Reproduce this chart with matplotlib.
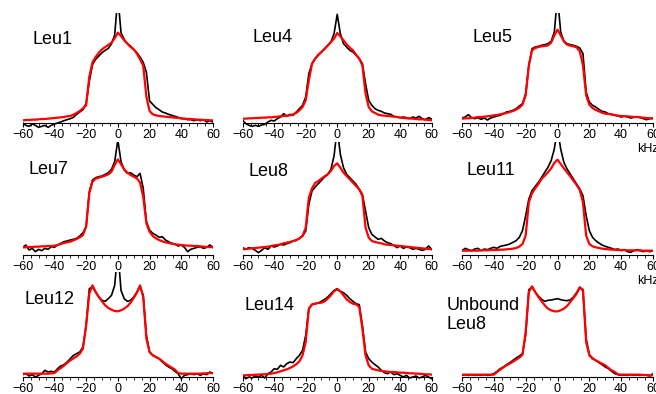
import numpy as np
import matplotlib.pyplot as plt
from matplotlib.ticker import MultipleLocator

plt.rcParams['font.family'] = ['Liberation Sans', 'DejaVu Sans']

# frequency grid of the spectra (kHz)
khz = np.arange(-60, 61, 2)

# intensities (arbitrary units, baseline = 0)
leu1_black = [0, -7, -10, -3, -7, -13, -10, -7, -13, -7, -3, 0, 3, 7, 10, 13, 17, 26, 33, 40,
              59, 125, 175, 191, 201, 211, 218, 224, 238, 264, 380, 271, 251, 238, 231, 221, 211, 198, 182, 152, 66,
              56, 46, 40, 33, 30, 26, 23, 20, 17, 13, 13, 10, 10, 7, 10, 7, 10, 3, 7, 3]
leu1_red = [8, 9, 9, 10, 10, 11, 12, 12, 13, 14, 15, 16, 17, 18, 20, 21, 25, 30, 36, 44,
            53, 139, 182, 198, 211, 221, 228, 234, 241, 254, 271, 261, 248, 238, 228, 221, 208, 191, 172, 79, 36,
            26, 23, 21, 20, 19, 18, 17, 16, 15, 14, 13, 12, 12, 11, 10, 10, 9, 9, 8, 8]

leu4_black = [8, -2, -7, -10, -7, -10, -6, -4, 3, 8, 6, 13, 18, 28, 20, 26, 23, 33, 43, 53,
              78, 148, 178, 193, 203, 213, 223, 233, 243, 268, 326, 268, 238, 228, 218, 213, 203, 193, 178, 118, 68,
              53, 43, 38, 35, 30, 28, 26, 20, 18, 16, 18, 16, 13, 18, 15, 20, 13, 10, 16, 12]
leu4_red = [13, 13, 14, 14, 15, 15, 16, 16, 17, 17, 18, 19, 20, 21, 22, 23, 26, 30, 38, 48,
            68, 128, 178, 193, 205, 213, 222, 232, 243, 253, 270, 260, 248, 236, 226, 218, 205, 193, 173, 88, 48,
            35, 30, 25, 23, 22, 21, 20, 19, 18, 16, 15, 14, 14, 13, 12, 11, 11, 10, 9, 8]

leu5_black = [15, 18, 25, 16, 13, 16, 11, 15, 9, 15, 18, 21, 23, 28, 33, 35, 38, 43, 51, 58,
              88, 173, 223, 228, 230, 233, 235, 238, 245, 273, 380, 273, 245, 238, 235, 233, 230, 225, 208, 93, 63,
              53, 48, 41, 35, 33, 28, 25, 23, 21, 18, 21, 18, 15, 17, 19, 16, 13, 10, 13, 15]
leu5_red = [13, 14, 14, 15, 16, 18, 18, 19, 20, 21, 23, 24, 26, 28, 30, 33, 36, 40, 46, 55,
            83, 173, 218, 225, 228, 230, 231, 233, 241, 263, 280, 263, 245, 235, 232, 230, 227, 215, 173, 83, 55,
            45, 39, 35, 31, 28, 27, 26, 24, 22, 21, 20, 20, 19, 18, 18, 17, 16, 15, 14, 13]

leu7_black = [23, 30, 15, 20, 10, 17, 13, 20, 17, 25, 23, 30, 35, 40, 42, 45, 47, 50, 57, 67,
              85, 190, 225, 232, 235, 237, 242, 247, 257, 280, 345, 280, 255, 245, 247, 240, 235, 245, 200, 100, 75,
              65, 60, 53, 55, 45, 40, 35, 33, 27, 30, 23, 10, 17, 20, 23, 25, 20, 23, 30, 23]
leu7_red = [23, 23, 24, 24, 25, 25, 26, 26, 27, 27, 28, 30, 33, 36, 38, 40, 44, 48, 53, 60,
            85, 185, 220, 229, 232, 235, 238, 242, 250, 270, 287, 272, 257, 247, 240, 235, 230, 217, 175, 95, 70,
            57, 50, 45, 41, 38, 36, 34, 32, 31, 30, 29, 28, 28, 27, 27, 26, 25, 24, 24, 23]

leu8_black = [22, 17, 22, 20, 14, 7, 14, 22, 17, 27, 24, 27, 32, 30, 34, 37, 42, 44, 50, 57,
              72, 152, 192, 204, 214, 224, 234, 242, 257, 297, 380, 302, 262, 242, 232, 222, 212, 197, 182, 132, 82,
              62, 54, 47, 50, 42, 37, 34, 29, 22, 27, 20, 24, 22, 17, 20, 17, 14, 17, 27, 17]
leu8_red = [17, 18, 19, 20, 21, 22, 23, 24, 25, 27, 29, 30, 32, 35, 37, 39, 42, 45, 50, 57,
            82, 172, 200, 216, 222, 229, 236, 242, 252, 267, 275, 262, 247, 237, 227, 217, 207, 197, 177, 82, 52,
            42, 39, 37, 35, 32, 31, 30, 29, 28, 27, 26, 25, 24, 23, 22, 21, 20, 19, 18, 17]

leu11_black = [13, 20, 16, 13, 18, 20, 13, 18, 16, 20, 23, 20, 26, 28, 30, 33, 38, 43, 53, 73,
               118, 168, 193, 206, 218, 233, 248, 263, 283, 318, 380, 318, 278, 258, 243, 228, 213, 198, 178, 118, 73,
               53, 43, 36, 30, 26, 23, 20, 16, 18, 13, 16, 10, 8, 13, 16, 13, 10, 13, 10, 13]
leu11_red = [13, 13, 13, 13, 13, 13, 14, 14, 14, 15, 15, 15, 16, 16, 17, 18, 19, 21, 25, 33,
             58, 158, 185, 200, 213, 228, 238, 248, 260, 276, 286, 273, 260, 248, 236, 223, 210, 195, 158, 58, 33,
             26, 23, 21, 19, 18, 17, 16, 16, 15, 15, 15, 14, 14, 14, 14, 14, 13, 13, 13, 13]

leu12_black = [7, 10, 3, 7, 0, 5, 10, 20, 15, 17, 15, 25, 33, 37, 45, 55, 65, 70, 75, 90,
               155, 265, 270, 255, 240, 230, 227, 235, 245, 275, 380, 260, 235, 227, 230, 240, 255, 270, 245, 125, 75,
               65, 60, 55, 45, 37, 30, 25, 17, 10, -5, 5, 7, 10, 7, 10, 5, 10, 7, 15, 10]
leu12_red = [10, 10, 10, 10, 10, 10, 10, 10, 10, 11, 12, 20, 27, 34, 42, 50, 56, 62, 70, 85,
             155, 250, 275, 255, 240, 227, 215, 207, 202, 198, 197, 200, 205, 212, 223, 237, 253, 275, 240, 115, 75,
             65, 60, 55, 48, 40, 34, 28, 22, 12, 10, 10, 10, 10, 10, 10, 10, 11, 11, 12, 12]

leu14_black = [5, -5, 0, -3, 3, 0, 5, -3, 10, 15, 25, 23, 35, 30, 40, 45, 43, 55, 65, 80,
               125, 205, 217, 220, 222, 227, 233, 240, 250, 260, 265, 257, 253, 245, 235, 227, 220, 217, 155, 75, 55,
               45, 37, 30, 20, 13, 10, 15, 7, 10, 5, 0, 5, -3, 0, 3, -3, 0, 5, 0, -5]
leu14_red = [5, 5, 6, 6, 7, 7, 8, 8, 9, 10, 12, 14, 17, 20, 23, 27, 32, 38, 47, 65,
             105, 205, 218, 220, 222, 223, 227, 235, 245, 257, 263, 257, 245, 233, 225, 220, 218, 210, 145, 65, 35,
             25, 22, 20, 18, 17, 16, 15, 15, 14, 13, 13, 12, 11, 11, 10, 10, 9, 8, 8, 7]

unb8_black = [5, 7, 5, 7, 5, 6, 5, 7, 5, 6, 10, 17, 25, 30, 37, 43, 50, 57, 63, 70,
              125, 262, 270, 255, 243, 233, 227, 230, 231, 233, 235, 232, 230, 229, 231, 240, 253, 270, 258, 115, 67,
              57, 50, 43, 37, 30, 25, 17, 10, 7, 5, 6, 5, 7, 5, 6, 5, 7, 5, 3, 10]
unb8_red = [7, 7, 7, 7, 7, 7, 7, 7, 7, 7, 7, 15, 22, 29, 35, 40, 46, 52, 58, 67,
            135, 255, 272, 255, 240, 227, 215, 205, 200, 197, 197, 200, 205, 213, 225, 237, 250, 268, 262, 105, 65,
            55, 50, 45, 40, 35, 27, 20, 15, 8, 7, 7, 7, 7, 7, 7, 7, 6, 6, 5, 5]

labels = ['Leu1', 'Leu4', 'Leu5', 'Leu7', 'Leu8', 'Leu11', 'Leu12', 'Leu14', 'Unbound\nLeu8']
blacks = [leu1_black, leu4_black, leu5_black, leu7_black, leu8_black, leu11_black,
          leu12_black, leu14_black, unb8_black]
reds = [leu1_red, leu4_red, leu5_red, leu7_red, leu8_red, leu11_red,
        leu12_red, leu14_red, unb8_red]

# layout in pixels
W, H = 656, 394
col_px = [(22.7, 213.0), (242.7, 431.7), (462.0, 653.0)]
row_px = [(13, 123), (142, 255), (272, 377)]  # (top, baseline)
below = 20  # data units shown under the baseline (3 units = 1 px)
label_px = [(32, 39), (253, 38), (472, 38), (29, 169), (248, 172), (467, 170),
            (25, 299), (245, 305), (447, 315)]

fig = plt.figure(figsize=(W / 100, H / 100), dpi=100)

for i in range(9):
    r, c = divmod(i, 3)
    x0, x1 = col_px[c]
    top, base = row_px[r]
    bot = base + below / 3
    ax = fig.add_axes([x0 / W, 1 - bot / H, (x1 - x0) / W, (bot - top) / H])
    ax.plot(khz, blacks[i], color='black', lw=1.2, zorder=2)
    ax.plot(khz, reds[i], color='#ff0000', lw=1.6, zorder=3)
    ax.set_xlim(-60, 60)
    ax.set_ylim(-below, (base - top) * 3)
    for s in ['top', 'left', 'right']:
        ax.spines[s].set_visible(False)
    ax.spines['bottom'].set_position(('data', 0))
    ax.spines['bottom'].set_linewidth(0.8)
    ax.set_yticks([])
    ax.xaxis.set_major_locator(MultipleLocator(20))
    ax.xaxis.set_minor_locator(MultipleLocator(5))
    ax.tick_params(axis='x', which='major', direction='out', length=3, width=0.8,
                   labelsize=9, pad=1.0)
    ax.tick_params(axis='x', which='minor', direction='out', length=1.8, width=0.6)
    ax.patch.set_visible(False)

    lx, ly = label_px[i]
    fig.text(lx / W, 1 - ly / H, labels[i], fontsize=13, ha='left', va='center')

for y in [149, 281]:
    fig.text(637 / W, 1 - y / H, 'kHz', fontsize=9, ha='left', va='center')

fig.savefig('out.png', dpi=100)
